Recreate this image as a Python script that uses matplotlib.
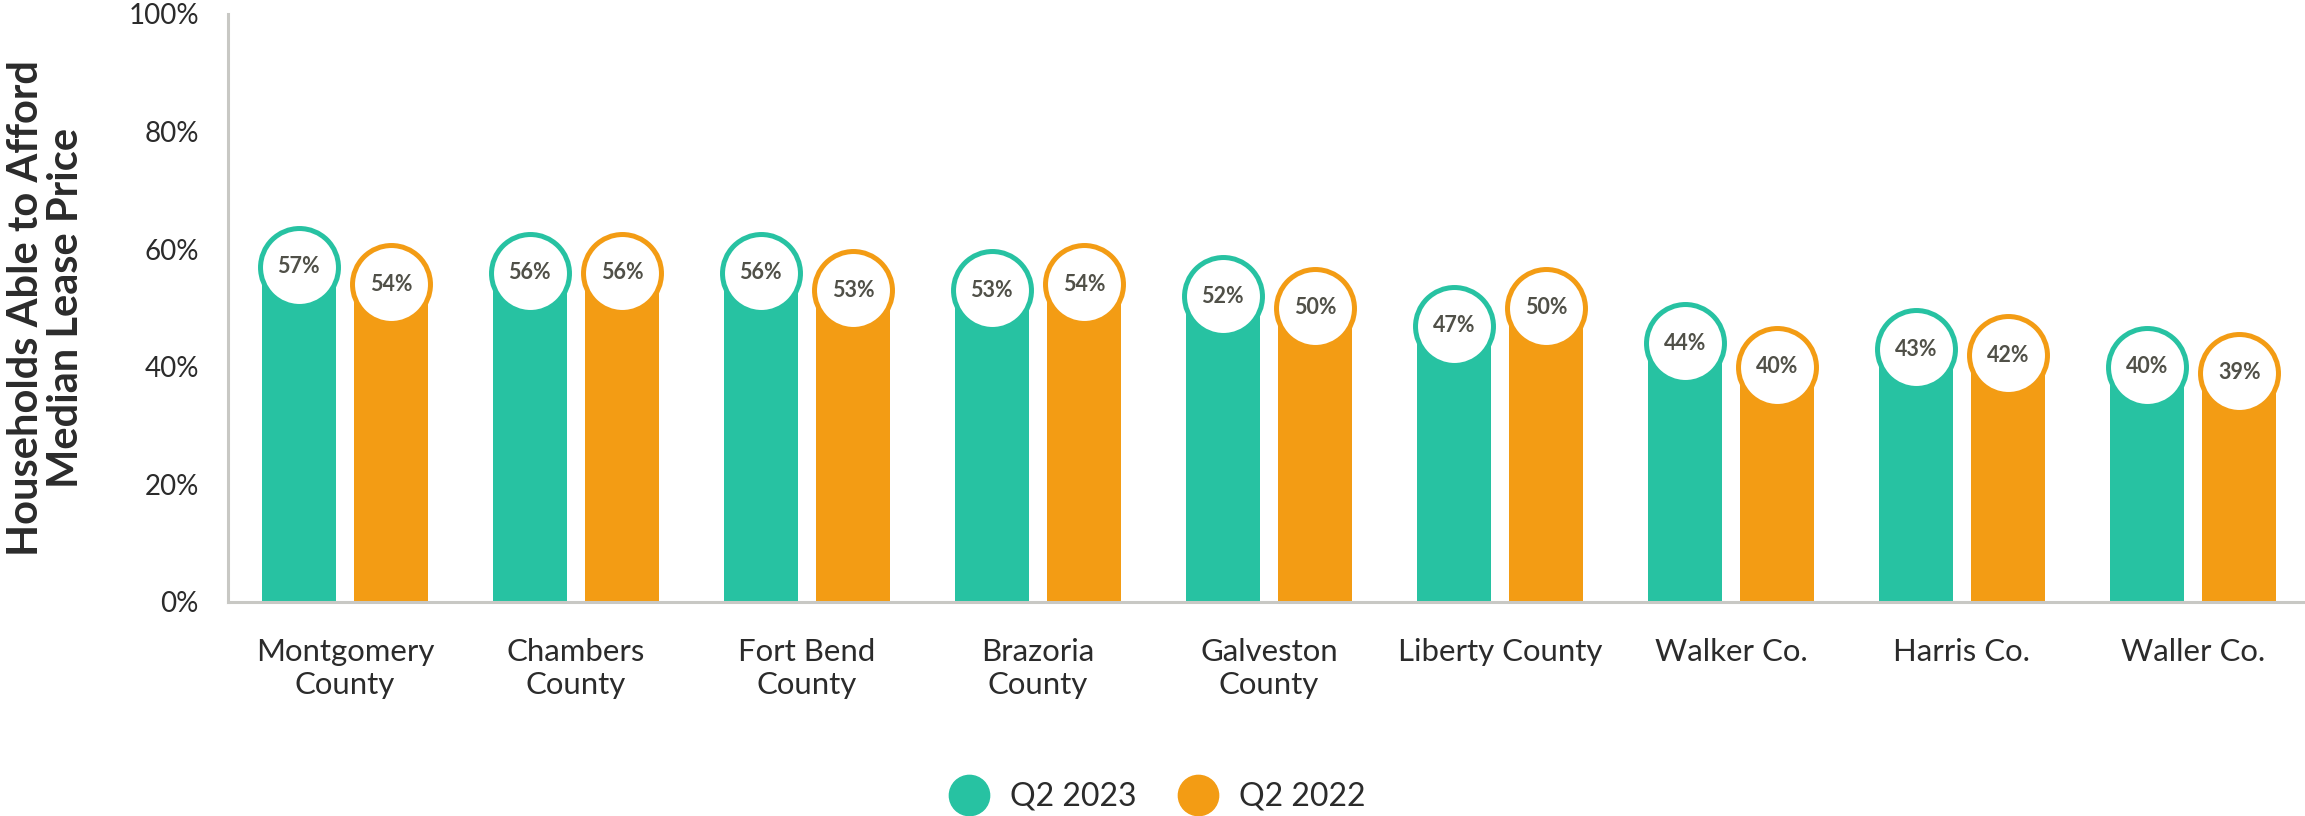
import numpy as np
import matplotlib
matplotlib.use('Agg')
from matplotlib import pyplot as plt
from matplotlib.lines import Line2D

plt.rcParams['font.family'] = ['Lato', 'DejaVu Sans']

# data
counties = ['Montgomery\nCounty', 'Chambers\nCounty', 'Fort Bend\nCounty', 'Brazoria\nCounty',
            'Galveston\nCounty', 'Liberty County', 'Walker Co.', 'Harris Co.', 'Waller Co.']
q2_2023 = [57, 56, 56, 53, 52, 47, 44, 43, 40]
q2_2022 = [54, 56, 53, 54, 50, 50, 40, 42, 39]
series_names = ['Q2 2023', 'Q2 2022']

teal = '#27C2A2'
orange = '#F39C14'
grey_axis = '#C8C8C4'
txt = '#2B2B2B'
lbl = '#505048'

fig = plt.figure(figsize=(23.05, 8.16), dpi=100)
ax = fig.add_axes([228/2305, 214/816, (2305-228)/2305, (602-14)/816])

x = np.arange(len(counties))
w = 0.32
off = 0.2

for vals, col, dx in [(q2_2023, teal, -off), (q2_2022, orange, off)]:
    ax.bar(x + dx, vals, width=w, color=col, zorder=2)
    ax.scatter(x + dx, vals, s=3150, facecolor='white', edgecolor=col, linewidth=3.6, zorder=3)
    for xi, v in zip(x + dx, vals):
        ax.text(xi, v, '{}%'.format(v), ha='center', va='center', fontsize=15.5,
                fontweight='bold', color=lbl, zorder=4)

ax.set_xlim(-0.506, 8.485)
ax.set_ylim(0, 100)
ax.set_yticks(range(0, 101, 20))
ax.set_yticklabels(['{}%'.format(i) for i in range(0, 101, 20)], fontsize=20, color=txt)
ax.set_xticks(x)
ax.set_xticklabels(counties, fontsize=22.4, color=txt, linespacing=1.2)
ax.tick_params(axis='y', length=0, pad=21)
ax.tick_params(axis='x', length=0, pad=26)

for s in ['top', 'right']:
    ax.spines[s].set_visible(False)
for s in ['left', 'bottom']:
    ax.spines[s].set_color(grey_axis)
    ax.spines[s].set_linewidth(2.2)

fig.text(46/2305, 1 - 308/816, 'Households Able to Afford\nMedian Lease Price', rotation=90,
         ha='center', va='center', fontsize=30, fontweight='bold', color=txt,
         multialignment='center', linespacing=1.05)

handles = [Line2D([], [], marker='o', linestyle='none', markersize=29, color=c)
           for c in [teal, orange]]
fig.legend(handles, series_names, loc='center', bbox_to_anchor=(0.502, 1 - 797/816),
           ncol=2, frameon=False, fontsize=23, handlelength=1.25, handletextpad=0.66,
           columnspacing=1.28, labelcolor=txt, borderpad=0)

fig.savefig('out.png', dpi=100)
